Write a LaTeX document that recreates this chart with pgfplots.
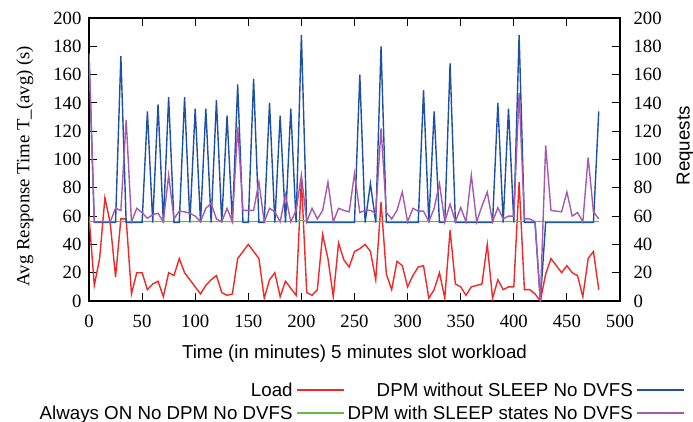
\documentclass[border=0pt]{standalone}
\usepackage{fontspec}
\setmainfont{Liberation Serif}
\setsansfont{Liberation Sans}
\usepackage{pgfplots}
\usepackage{pgfplotstable}
\pgfplotsset{compat=1.18}
\definecolor{loadred}{RGB}{240,40,40}
\definecolor{ongreen}{RGB}{100,190,70}
\definecolor{dpmblue}{RGB}{30,80,165}
\definecolor{sleeppurple}{RGB}{165,90,175}
\pgfplotstableread{
x load on dpm sleep
0 60 56.2 175 175
5 11 56.2 55.5 56
10 30 56.2 55.5 56
15 73 56.2 55.5 56
20 55 56.2 55.5 56
25 17 56.2 55.5 65.5
30 58 56.2 173 64
35 58 56.2 55.5 128
40 5 56.2 55.5 56
45 20 56.2 55.5 65.5
50 20 56.2 55.5 62.4
55 8 56.2 134 58.4
60 12 56.2 55.5 61
65 14 56.2 139 62
70 3 56.2 55.5 56
75 20 56.2 144 89
80 18 56.2 55.5 58
85 30 56.2 55.5 63.6
90 20 56.2 144 63
95 15 56.2 55.5 62
100 10 56.2 136 60
105 5 56.2 55.5 56
110 11 56.2 136 65.5
115 15 56.2 55.5 69
120 18 56.2 142 58
125 6 56.2 55.5 56
130 4 56.2 131 65.5
135 5 56.2 55.5 56
140 30 56.2 153 123
145 35 56.2 55.5 64
150 40 56.2 55.5 64
155 35 56.2 157 64
160 30 56.2 55.5 84
165 2 56.2 55.5 56
170 15 56.2 140 65.5
175 20 56.2 55.5 63
180 3 56.2 131 56
185 14 56.2 55.5 75
190 9 56.2 136 56
195 4 56.2 55.5 64
200 86 57 188 89
205 6 56.2 55.5 56
210 4 56.2 55.5 65.5
215 8 56.2 55.5 58
220 47 56.2 55.5 64
225 30 56.2 55.5 84
230 3 56.2 55.5 56
235 41 56.2 55.5 65.5
240 29 56.2 55.5 64
245 24 56.2 55.5 63
250 35 56.2 55.5 90
255 37 56.2 160 62.5
260 40 56.2 55.5 64
265 35 56.2 83 64
270 15 56.2 55.5 62
275 70 56.2 180 122
280 19 56.2 55.5 62.5
285 8 56.2 55.5 58
290 28 56.2 55.5 64
295 25 56.2 55.5 77
300 10 56.2 55.5 56
305 18 56.2 55.5 65.5
310 24 56.2 55.5 63.5
315 25 56.2 149 63.5
320 2 56.2 55.5 56
325 8 56.2 134 65.5
330 20 56.2 55.5 83
335 2 56.2 55.5 56
340 50 56.2 168 68.5
345 12 56.2 55.5 56
350 10 56.2 55.5 66
355 4 56.2 55.5 56
360 10 56.2 55.5 89
365 11 56.2 55.5 56
370 12 56.2 55.5 67
375 40 56.2 55.5 77
380 2 56.2 55.5 56
385 15 56.2 140 66
390 8 56.2 55.5 58
395 10 56.2 136 60
400 10 56.2 55.5 60
405 84 56.2 188 147
410 8 56.2 55.5 58
415 8 56.2 55.5 58
420 5 56.2 55.5 56
425 0 56.2 0 0
430 19 56.2 55.5 110
435 30 56.2 55.5 64
440 25 56.2 55.5 63.5
445 20 56.2 55.5 63
450 25 56.2 55.5 77
455 20 56.2 55.5 60
460 18 56.2 55.5 62.5
465 3 56.2 55.5 56
470 30 56.2 55.5 101.5
475 35 56.2 55.5 63
480 8 56.2 134 58
}\datatable

\begin{document}
\begin{tikzpicture}
\begin{axis}[
  at={(0,0)}, anchor=south west,
  scale only axis, width=531bp, height=283bp,
  xmin=0, xmax=500, ymin=0, ymax=200,
  xtick={0,50,...,500}, ytick={0,20,...,200},
  tick pos=both, tick align=inside,
  major tick length=8bp,
  axis line style={line width=1.2bp},
  every tick/.style={black, line width=1bp},
  /pgf/number format/assume math mode=true,
  font=\fontsize{18.8}{22}\selectfont,
  yticklabel style={xshift=-4bp},
  xticklabel style={yshift=-11bp},
  xlabel={\sffamily Time (in minutes) 5 minutes slot workload},
  xlabel style={at={(axis description cs:0.5,-0.186)}, anchor=center},
  ylabel={Avg Response Time T\_(avg) (s)},
  ylabel style={at={(axis description cs:-0.1205,0.477)}, anchor=center},
  legend columns=2,
  legend plot pos=right, legend cell align=right,
  legend image code/.code={\draw[#1] (0bp,0bp) -- (47bp,0bp);},
  legend style={draw=none, fill=none, at={(axis description cs:1.1224,-0.281)}, anchor=north east,
    font=\sffamily\fontsize{18.8}{22}\selectfont, inner sep=0pt,
    column sep=1bp, row sep=4bp},
]
\addplot[color=loadred, line width=1.4bp, forget plot] table[x=x, y=load] {\datatable};
\addplot[color=ongreen, line width=1.4bp, forget plot] table[x=x, y=on] {\datatable};
\addplot[color=dpmblue, line width=1.4bp, forget plot] table[x=x, y=dpm] {\datatable};
\addplot[color=sleeppurple, line width=1.4bp, forget plot] table[x=x, y=sleep] {\datatable};
\addlegendimage{draw=loadred, line width=2bp}
\addlegendentry{Load}
\addlegendimage{draw=dpmblue, line width=2bp}
\addlegendentry{DPM without SLEEP No DVFS}
\addlegendimage{draw=ongreen, line width=2bp}
\addlegendentry{Always ON No DPM No DVFS}
\addlegendimage{draw=sleeppurple, line width=2bp}
\addlegendentry{DPM with SLEEP states No DVFS}
\end{axis}
\begin{axis}[
  at={(0,0)}, anchor=south west,
  scale only axis, width=531bp, height=283bp,
  xmin=0, xmax=500, ymin=0, ymax=200,
  axis x line=none, axis y line*=right,
  y axis line style={draw=none},
  ytick={0,20,...,200}, major tick length=0pt,
  /pgf/number format/assume math mode=true,
  font=\fontsize{18.8}{22}\selectfont,
  yticklabel style={xshift=10bp},
  ylabel={\sffamily Requests},
  ylabel style={at={(axis description cs:1.1224,0.548)}, anchor=center},
]
\end{axis}
\pgfresetboundingbox
\path (-89bp,-121bp) rectangle (604bp,301bp);
\end{tikzpicture}
\end{document}
